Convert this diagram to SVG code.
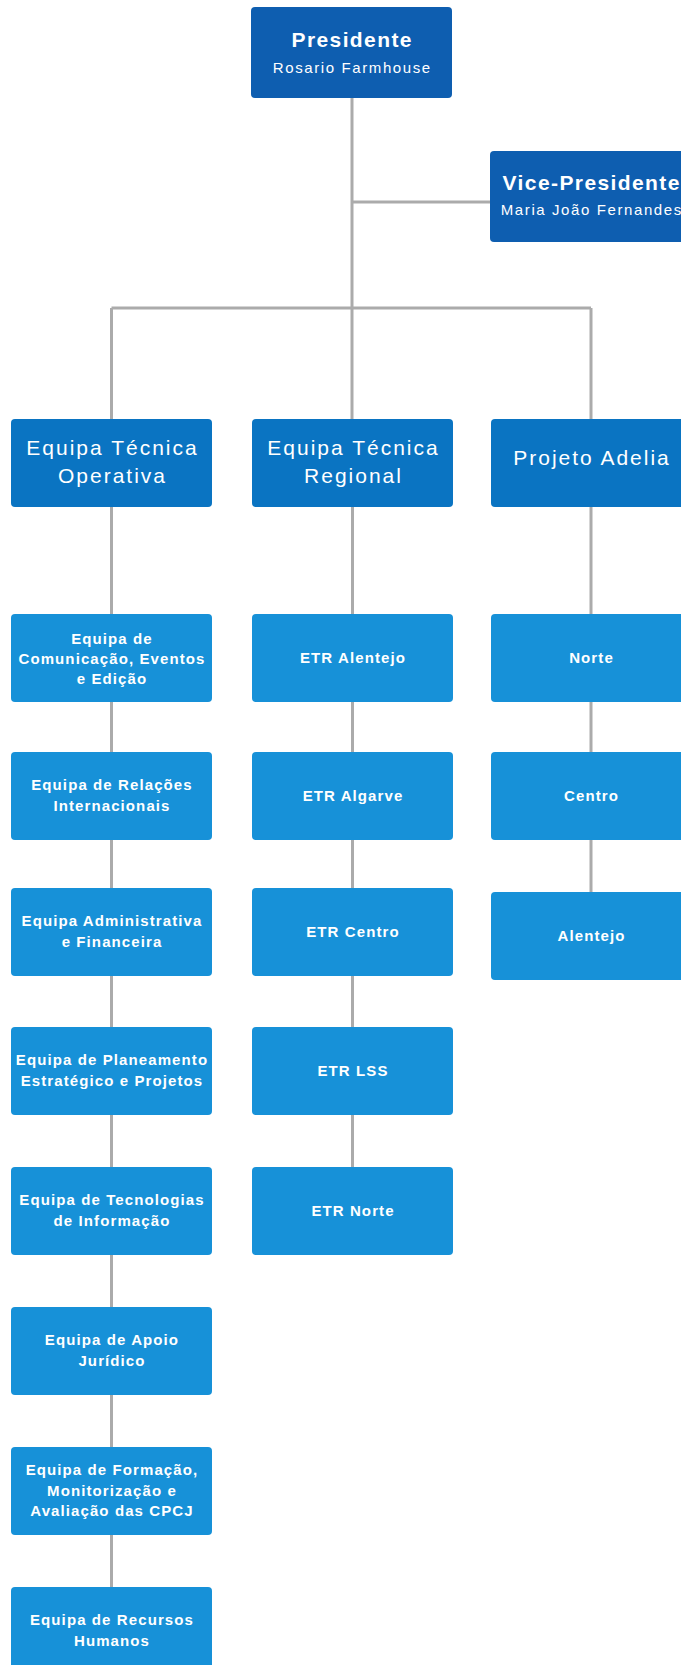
<svg xmlns="http://www.w3.org/2000/svg" width="681" height="1665" viewBox="0 0 681 1665">
<style>
.bg{fill:#ffffff}
.top{fill:#0E5EB0}
.l2{fill:#0A74C2}
.l3{fill:#1791D8}
.con line{stroke:#ababab;stroke-width:3;fill:none}
text{fill:#ffffff;font-family:"Liberation Sans",Arial,sans-serif;text-anchor:middle}
.t1{font-size:21px;font-weight:bold;letter-spacing:1.4px}
.t1s{font-size:15px;letter-spacing:1.6px}
.t2{font-size:21px;letter-spacing:2px}
.t3{font-size:15px;font-weight:bold;letter-spacing:1.1px}
</style>
<rect class="bg" x="0" y="0" width="681" height="1665"/>
<g id="connectors" class="con">
<line x1="352" y1="98" x2="352" y2="419"/>
<line x1="352" y1="202" x2="490" y2="202"/>
<line x1="111.5" y1="308" x2="591" y2="308"/>
<line x1="111.5" y1="308" x2="111.5" y2="419"/>
<line x1="591" y1="308" x2="591" y2="419"/>
<line x1="111.5" y1="507" x2="111.5" y2="614"/>
<line x1="111.5" y1="702" x2="111.5" y2="752"/>
<line x1="111.5" y1="840" x2="111.5" y2="888"/>
<line x1="111.5" y1="976" x2="111.5" y2="1027"/>
<line x1="111.5" y1="1115" x2="111.5" y2="1167"/>
<line x1="111.5" y1="1255" x2="111.5" y2="1307"/>
<line x1="111.5" y1="1395" x2="111.5" y2="1447"/>
<line x1="111.5" y1="1535" x2="111.5" y2="1587"/>
<line x1="352.5" y1="507" x2="352.5" y2="614"/>
<line x1="352.5" y1="702" x2="352.5" y2="752"/>
<line x1="352.5" y1="840" x2="352.5" y2="888"/>
<line x1="352.5" y1="976" x2="352.5" y2="1027"/>
<line x1="352.5" y1="1115" x2="352.5" y2="1167"/>
<line x1="591" y1="507" x2="591" y2="614"/>
<line x1="591" y1="702" x2="591" y2="752"/>
<line x1="591" y1="840" x2="591" y2="892"/>
</g>
<g id="presidente">
<rect class="top" x="251" y="7" width="201" height="91" rx="4"/>
<text class="t1" x="352.2" y="47">Presidente</text>
<text class="t1s" x="352.3" y="73">Rosario Farmhouse</text>
</g>
<g id="vice-presidente">
<rect class="top" x="490" y="151" width="202" height="91" rx="4"/>
<text class="t1" x="591.7" y="190">Vice-Presidente</text>
<text class="t1s" x="591.8" y="215">Maria João Fernandes</text>
</g>
<g id="equipa-tecnica-operativa">
<rect class="l2" x="11" y="419" width="201" height="88" rx="4"/>
<text class="t2" x="112.5" y="455">Equipa Técnica</text>
<text class="t2" x="112.5" y="483">Operativa</text>
</g>
<g id="equipa-tecnica-regional">
<rect class="l2" x="252" y="419" width="201" height="88" rx="4"/>
<text class="t2" x="353.5" y="455">Equipa Técnica</text>
<text class="t2" x="353.5" y="483">Regional</text>
</g>
<g id="projeto-adelia">
<rect class="l2" x="491" y="419" width="202" height="88" rx="4"/>
<text class="t2" x="592" y="465">Projeto Adelia</text>
</g>
<g id="comunicacao">
<rect class="l3" x="11" y="614" width="201" height="88" rx="4"/>
<text class="t3" x="112" y="644">Equipa de</text>
<text class="t3" x="112" y="664">Comunicação, Eventos</text>
<text class="t3" x="112" y="684">e Edição</text>
</g>
<g id="relacoes">
<rect class="l3" x="11" y="752" width="201" height="88" rx="4"/>
<text class="t3" x="112" y="790">Equipa de Relações</text>
<text class="t3" x="112" y="811">Internacionais</text>
</g>
<g id="administrativa">
<rect class="l3" x="11" y="888" width="201" height="88" rx="4"/>
<text class="t3" x="112" y="926">Equipa Administrativa</text>
<text class="t3" x="112" y="947">e Financeira</text>
</g>
<g id="planeamento">
<rect class="l3" x="11" y="1027" width="201" height="88" rx="4"/>
<text class="t3" x="112" y="1065">Equipa de Planeamento</text>
<text class="t3" x="112" y="1086">Estratégico e Projetos</text>
</g>
<g id="tecnologias">
<rect class="l3" x="11" y="1167" width="201" height="88" rx="4"/>
<text class="t3" x="112" y="1205">Equipa de Tecnologias</text>
<text class="t3" x="112" y="1226">de Informação</text>
</g>
<g id="apoio-juridico">
<rect class="l3" x="11" y="1307" width="201" height="88" rx="4"/>
<text class="t3" x="112" y="1345">Equipa de Apoio</text>
<text class="t3" x="112" y="1366">Jurídico</text>
</g>
<g id="formacao">
<rect class="l3" x="11" y="1447" width="201" height="88" rx="4"/>
<text class="t3" x="112" y="1475">Equipa de Formação,</text>
<text class="t3" x="112" y="1496">Monitorização e</text>
<text class="t3" x="112" y="1516">Avaliação das CPCJ</text>
</g>
<g id="recursos-humanos">
<rect class="l3" x="11" y="1587" width="201" height="88" rx="4"/>
<text class="t3" x="112" y="1625">Equipa de Recursos</text>
<text class="t3" x="112" y="1646">Humanos</text>
</g>
<g id="etr-alentejo">
<rect class="l3" x="252" y="614" width="201" height="88" rx="4"/>
<text class="t3" x="353" y="663">ETR Alentejo</text>
</g>
<g id="etr-algarve">
<rect class="l3" x="252" y="752" width="201" height="88" rx="4"/>
<text class="t3" x="353" y="801">ETR Algarve</text>
</g>
<g id="etr-centro">
<rect class="l3" x="252" y="888" width="201" height="88" rx="4"/>
<text class="t3" x="353" y="937">ETR Centro</text>
</g>
<g id="etr-lss">
<rect class="l3" x="252" y="1027" width="201" height="88" rx="4"/>
<text class="t3" x="353" y="1076">ETR LSS</text>
</g>
<g id="etr-norte">
<rect class="l3" x="252" y="1167" width="201" height="88" rx="4"/>
<text class="t3" x="353" y="1216">ETR Norte</text>
</g>
<g id="norte">
<rect class="l3" x="491" y="614" width="202" height="88" rx="4"/>
<text class="t3" x="591.5" y="663">Norte</text>
</g>
<g id="centro">
<rect class="l3" x="491" y="752" width="202" height="88" rx="4"/>
<text class="t3" x="591.5" y="801">Centro</text>
</g>
<g id="alentejo">
<rect class="l3" x="491" y="892" width="202" height="88" rx="4"/>
<text class="t3" x="591.5" y="941">Alentejo</text>
</g>
</svg>
